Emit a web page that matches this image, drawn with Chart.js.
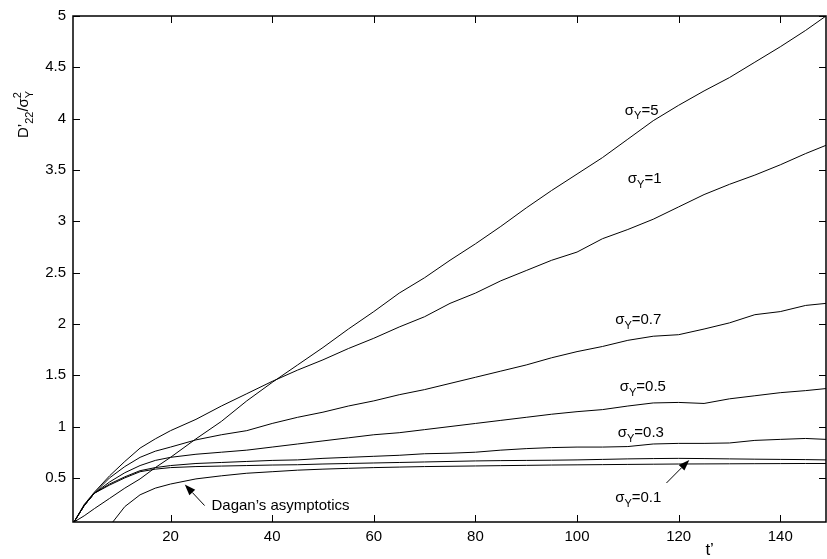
<!DOCTYPE html>
<html>
<head>
<meta charset="utf-8">
<script src="https://cdn.jsdelivr.net/npm/chart.js@4.4.0/dist/chart.umd.min.js"></script>
<style>
  html, body { margin: 0; padding: 0; background: #fff; }
  #wrap { width: 827px; height: 559px; position: relative; }
</style>
</head>
<body>
<div id="wrap"><canvas id="chart"></canvas></div>
<script>
// time axis t'
const tValues = [1, 3, 5, 8, 11, 14, 17, 20, 25, 30, 35, 40, 45, 50, 55, 60, 65, 70, 75, 80,
  85, 90, 95, 100, 105, 110, 115, 120, 125, 130, 135, 140, 145, 149];

// D'22 / sigma_Y^2 for each sigma_Y
const sigma5 = [0.07, 0.13, 0.2, 0.3, 0.4, 0.49, 0.6, 0.7, 0.88, 1.05, 1.25, 1.43, 1.6, 1.77, 1.95, 2.12,
  2.3, 2.45, 2.62, 2.78, 2.95, 3.13, 3.3, 3.46, 3.62, 3.8, 3.98, 4.13, 4.27, 4.4, 4.55, 4.7, 4.86, 5.0];
const sigma1 = [0.07, 0.24, 0.36, 0.52, 0.66, 0.79, 0.88, 0.96, 1.07, 1.2, 1.32, 1.44, 1.55, 1.65, 1.76, 1.86,
  1.97, 2.07, 2.2, 2.3, 2.42, 2.52, 2.62, 2.7, 2.83, 2.92, 3.02, 3.14, 3.26, 3.36, 3.45, 3.55, 3.66, 3.74];
const sigma07 = [0.07, 0.23, 0.35, 0.5, 0.61, 0.7, 0.76, 0.8, 0.87, 0.92, 0.96, 1.03, 1.09, 1.14, 1.2, 1.25,
  1.31, 1.36, 1.42, 1.48, 1.54, 1.6, 1.67, 1.73, 1.78, 1.84, 1.88, 1.895, 1.95, 2.01, 2.09, 2.12, 2.18, 2.2];
const sigma05 = [0.07, 0.23, 0.35, 0.46, 0.55, 0.62, 0.67, 0.7, 0.73, 0.75, 0.77, 0.8, 0.83, 0.86, 0.89, 0.92,
  0.94, 0.97, 1.0, 1.03, 1.06, 1.09, 1.12, 1.145, 1.165, 1.2, 1.23, 1.235, 1.225, 1.27, 1.3, 1.33, 1.35, 1.37];
const sigma03 = [0.07, 0.23, 0.35, 0.44, 0.51, 0.57, 0.6, 0.62, 0.64, 0.65, 0.66, 0.67, 0.675, 0.69, 0.7, 0.71,
  0.72, 0.735, 0.74, 0.75, 0.77, 0.785, 0.795, 0.8, 0.8, 0.805, 0.83, 0.836, 0.836, 0.84, 0.865, 0.875, 0.884, 0.875];
const sigma01 = [0.07, 0.23, 0.35, 0.43, 0.5, 0.56, 0.585, 0.6, 0.61, 0.615, 0.62, 0.625, 0.628, 0.635, 0.64, 0.645,
  0.65, 0.655, 0.66, 0.665, 0.668, 0.67, 0.672, 0.675, 0.68, 0.685, 0.688, 0.69, 0.688, 0.685, 0.682, 0.68, 0.678, 0.675];
const dagan = [null, null, null, 0.03, 0.22, 0.335, 0.4, 0.44, 0.49, 0.52, 0.545, 0.56, 0.575, 0.585, 0.593, 0.6,
  0.605, 0.61, 0.613, 0.616, 0.619, 0.622, 0.625, 0.627, 0.629, 0.631, 0.633, 0.635, 0.636, 0.637, 0.638, 0.639, 0.64, 0.64];

const xTicks = [20, 40, 60, 80, 100, 120, 140];
const yTicks = [0.5, 1, 1.5, 2, 2.5, 3, 3.5, 4, 4.5, 5];

const seriesList = [sigma5, sigma1, sigma07, sigma05, sigma03, sigma01, dagan];

// curve labels: [sigma text, t, value]
const curveLabels = [
  ["5", 109.4, 4.04],
  ["1", 110.0, 3.37],
  ["0.7", 107.5, 1.995],
  ["0.5", 108.4, 1.346],
  ["0.3", 108.0, 0.897],
  ["0.1", 107.5, 0.26]
];

const FONT = '"Liberation Sans", Arial, Helvetica, sans-serif';

// draws text with sub/superscripts, parts: {t, sub, sup}
function richText(ctx, parts, x, y, size) {
  let cx = x;
  const small = Math.round(size * 0.72);
  parts.forEach(p => {
    if (p.t) {
      ctx.font = size + "px " + FONT;
      ctx.fillText(p.t, cx, y);
      cx += ctx.measureText(p.t).width;
    }
    let w = 0;
    ctx.font = small + "px " + FONT;
    if (p.sup) {
      ctx.fillText(p.sup, cx, y - size * 0.45);
      w = Math.max(w, ctx.measureText(p.sup).width);
    }
    if (p.sub) {
      ctx.fillText(p.sub, cx, y + size * 0.33);
      w = Math.max(w, ctx.measureText(p.sub).width);
    }
    cx += w;
  });
}

function arrow(ctx, x0, y0, x1, y1) {
  const ang = Math.atan2(y1 - y0, x1 - x0);
  const hl = 11, hw = 4;
  ctx.beginPath();
  ctx.moveTo(x0, y0);
  ctx.lineTo(x1 - hl * Math.cos(ang), y1 - hl * Math.sin(ang));
  ctx.stroke();
  ctx.beginPath();
  ctx.moveTo(x1, y1);
  ctx.lineTo(x1 - hl * Math.cos(ang) + hw * Math.sin(ang), y1 - hl * Math.sin(ang) - hw * Math.cos(ang));
  ctx.lineTo(x1 - hl * Math.cos(ang) - hw * Math.sin(ang), y1 - hl * Math.sin(ang) + hw * Math.cos(ang));
  ctx.closePath();
  ctx.fill();
}

const decorPlugin = {
  id: "decor",
  afterDraw(chart) {
    const ctx = chart.ctx;
    const a = chart.chartArea;
    const xs = chart.scales.x, ys = chart.scales.y;
    ctx.save();
    ctx.strokeStyle = "#000";
    ctx.fillStyle = "#000";

    // box
    ctx.lineWidth = 1.5;
    ctx.strokeRect(a.left, a.top, a.right - a.left, a.bottom - a.top);

    // inward ticks on all four sides
    ctx.lineWidth = 1;
    const tl = 7;
    ctx.beginPath();
    xs.ticks.forEach(tk => {
      const px = Math.round(xs.getPixelForValue(tk.value)) + 0.5;
      ctx.moveTo(px, a.bottom); ctx.lineTo(px, a.bottom - tl);
      ctx.moveTo(px, a.top); ctx.lineTo(px, a.top + tl);
    });
    ys.ticks.forEach(tk => {
      const py = Math.round(ys.getPixelForValue(tk.value)) + 0.5;
      ctx.moveTo(a.left, py); ctx.lineTo(a.left + tl, py);
      ctx.moveTo(a.right, py); ctx.lineTo(a.right - tl, py);
    });
    ctx.stroke();

    // curve labels
    ctx.textBaseline = "alphabetic";
    ctx.textAlign = "left";
    curveLabels.forEach(([txt, t, v]) => {
      richText(ctx, [{ t: "\u03c3", sub: "Y" }, { t: "=" + txt }],
        xs.getPixelForValue(t), ys.getPixelForValue(v), 15);
    });

    // Dagan label + arrows
    ctx.font = "15px " + FONT;
    ctx.fillText("Dagan\u2019s asymptotics", xs.getPixelForValue(28.05), ys.getPixelForValue(0.19));
    ctx.lineWidth = 1;
    arrow(ctx, xs.getPixelForValue(26.7), ys.getPixelForValue(0.23),
      xs.getPixelForValue(22.8), ys.getPixelForValue(0.436));
    arrow(ctx, xs.getPixelForValue(117.6), ys.getPixelForValue(0.45),
      xs.getPixelForValue(122.1), ys.getPixelForValue(0.675));

    // x title
    ctx.font = "17px " + FONT;
    ctx.textAlign = "center";
    ctx.fillText("t\u2019", xs.getPixelForValue(126.1), a.bottom + 33);

    // y title, rotated
    ctx.translate(28, 138);
    ctx.rotate(-Math.PI / 2);
    ctx.textAlign = "left";
    richText(ctx, [{ t: "D\u2019", sub: "22" }, { t: "/\u03c3", sup: "2", sub: "Y" }], 0, 0, 15);
    ctx.restore();
  }
};

const datasets = seriesList.map(arr => ({
  data: tValues.map((t, i) => ({ x: t, y: arr[i] })),
  borderColor: "#000",
  borderWidth: 1,
  pointRadius: 0,
  tension: 0,
  spanGaps: false,
  clip: 0
}));

new Chart(document.getElementById("chart"), {
  type: "line",
  data: { datasets },
  options: {
    responsive: true,
    maintainAspectRatio: false,
    animation: false,
    layout: { padding: { top: 5, right: 1, left: 0, bottom: 0 } },
    plugins: { legend: { display: false }, tooltip: { enabled: false } },
    scales: {
      x: {
        type: "linear",
        min: 0.8,
        max: 149,
        grid: { display: false, drawTicks: false },
        border: { display: false },
        afterBuildTicks: s => { s.ticks = xTicks.map(v => ({ value: v })); },
        afterFit: s => { s.height = 37; },
        ticks: {
          color: "#000",
          font: { family: FONT, size: 15 },
          padding: 6,
          maxRotation: 0,
          autoSkip: false,
          callback: v => String(v)
        }
      },
      y: {
        type: "linear",
        min: 0.07,
        max: 5,
        grid: { display: false, drawTicks: false },
        border: { display: false },
        afterBuildTicks: s => { s.ticks = yTicks.map(v => ({ value: v })); },
        afterFit: s => { s.width = 73; },
        ticks: {
          color: "#000",
          font: { family: FONT, size: 15 },
          padding: 7,
          autoSkip: false,
          callback: v => String(v)
        }
      }
    }
  },
  plugins: [decorPlugin]
});
</script>
</body>
</html>
